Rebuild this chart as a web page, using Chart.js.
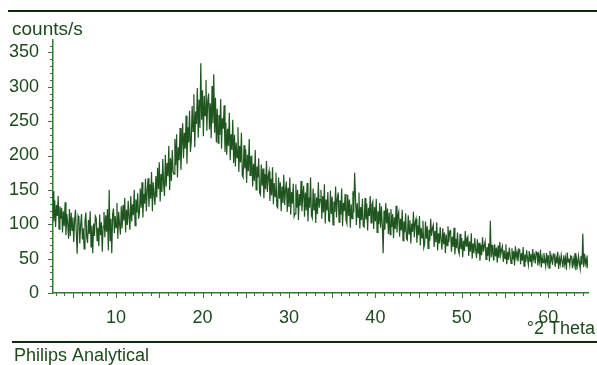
<!DOCTYPE html>
<html>
<head>
<meta charset="utf-8">
<script src="https://cdn.jsdelivr.net/npm/chart.js@4/dist/chart.umd.min.js"></script>
<style>
  html, body { margin: 0; padding: 0; background: #fff; }
  #wrap { width: 597px; height: 365px; position: relative; }
</style>
</head>
<body>
<div id="wrap"><canvas id="xrd"></canvas></div>
<script>
// scan settings (degrees 2 theta)
const thetaStart = 2.7;
const thetaStep = 0.1;

// counts/s, one row per degree (10 points of 0.1 deg)
const counts = [
  148,104,135, 96,128,112,141, 93,126,108,
  124, 88,119, 97,132, 84,115,101, 79,122,
   83,117, 91,110, 74,106,121, 87, 57,112,
  108, 72, 99,115, 78, 94, 64,104,117, 81,
   73,106, 86,119, 67, 98, 58,101, 83,112,
  109, 76, 95, 68,114, 84,103, 60, 97,118,
   81,113, 89,122, 62,150, 76,108, 58,115,
  123, 87,112, 95,131, 79,118,100, 85,126,
   94,128,105,138, 88,121, 99,134,110, 92,
  141,104,129,113,150, 98,136,117,145,108,
  116,152,124,161,110,144,130,166,119,149,
  167,125,158,137,176,119,161,143,128,170,
  139,182,151,190,133,173,147,195,158,141,
  201,155,189,170,214,150,196,163,208,176,
  173,224,186,231,168,212,193,240,179,216,
  247,196,233,210,258,188,241,219,265,205,
  221,272,235,289,212,264,246,298,226,281,
  240,334,252,295,228,287,258,310,236,279,
  290,238,276,225,301,247,318,233,284,219,
  268,218,259,230,282,210,254,239,273,205,
  248,201,239,214,262,193,231,208,252,189,
  230,184,219,197,241,176,214,190,233,171,
  168,215,181,209,160,201,177,224,171,198,
  199,155,188,163,208,150,184,168,196,146,
  143,187,156,181,138,173,151,192,147,170,
  177,134,166,142,183,129,160,140,175,126,
  124,168,137,161,119,155,131,172,128,150,
  162,118,153,125,168,114,147,130,159,111,
  115,158,124,150,106,144,127,163,119,141,
  156,111,146,120,160,104,139,124,168,113,
  109,152,121,145,102,139,115,161,124,136,
  150,108,141,117,158,101,136,120,147,105,
  104,149,115,140, 99,133,118,155,110,138,
  146,103,135,114,152, 97,131,119,144,106,
  101,143,112,136, 95,129,108,148,117,175,
  140, 99,131,110,146, 94,125,106,137, 97,
   96,138,107,130, 91,124,112,141,102,129,
  133, 93,125,104,137, 88,119,100,131, 95,
  126, 98, 58,120, 92,131,101,123, 86,117,
   85,122, 96,115, 80,110, 93,127, 88,112,
  118, 82,108, 91,121, 76,104, 88,116, 79,
   77,113, 86,106, 72,101, 89,118, 81,103,
  108, 73, 98, 84,112, 69, 95, 80,105, 66,
   71,104, 79, 97, 65, 92, 76,108, 83, 94,
   99, 67, 90, 74,103, 62, 87, 72, 96, 77,
   63, 94, 71, 88, 58, 85, 69, 97, 74, 90,
   91, 60, 82, 67, 95, 56, 79, 65, 88, 62,
   57, 86, 64, 80, 52, 76, 61, 90, 68, 79,
   82, 54, 75, 60, 87, 50, 72, 58, 80, 63,
   51, 78, 57, 73, 47, 70, 55, 81, 60, 69,
   75, 49, 67, 54, 72, 46,105, 52, 70, 56,
   47, 71, 53, 66, 44, 69, 51, 74, 55, 63,
   68, 45, 62, 50, 71, 42, 60, 48, 66, 53,
   43, 65, 49, 61, 40, 68, 52, 59, 46, 64,
   63, 42, 58, 47, 67, 39, 56, 45, 62, 50,
   41, 61, 46, 57, 38, 64, 49, 55, 43, 60,
   59, 40, 54, 45, 63, 37, 52, 44, 58, 48,
   39, 58, 44, 55, 36, 61, 47, 53, 41, 57,
   56, 38, 52, 43, 60, 35, 50, 42, 55, 46,
   37, 55, 42, 51, 34, 59, 45, 50, 40, 54,
   53, 36, 49, 41, 58, 33, 48, 40, 54, 44,
   35, 54, 41, 86, 38, 57, 43, 50, 36, 55
];

const xTickLabels = [10, 20, 30, 40, 50, 60];
const yTickLabels = [0, 50, 100, 150, 200, 250, 300, 350];

const thetaMax = 64.6;
const countsMax = 368;

const points = counts.map((c, i) => ({ x: +(thetaStart + i * thetaStep).toFixed(2), y: c }));

const textColor = '#1d4a1d';
const axisColor = '#2f7d2f';
const font = 'Liberation Sans, Arial, Helvetica, sans-serif';

// frame lines, captions and tick marks
const decor = {
  id: 'decor',
  afterDraw(chart) {
    const ctx = chart.ctx;
    const xs = chart.scales.x, ys = chart.scales.y;
    ctx.save();
    ctx.strokeStyle = axisColor;
    ctx.lineWidth = 1;
    for (let t = 3; t <= 64; t++) {
      const px = Math.round(xs.getPixelForValue(t)) + 0.5;
      const len = t % 5 === 0 ? 5 : 3;
      ctx.beginPath();
      ctx.moveTo(px, xs.top);
      ctx.lineTo(px, xs.top + len);
      ctx.stroke();
    }
    for (let v = 0; v <= 360; v += 10) {
      const py = Math.round(ys.getPixelForValue(v)) + 0.5;
      const len = v % 50 === 0 ? 5 : 3;
      ctx.beginPath();
      ctx.moveTo(ys.right, py);
      ctx.lineTo(ys.right - len, py);
      ctx.stroke();
    }
    // horizontal rules
    ctx.strokeStyle = '#0f2a0f';
    ctx.lineWidth = 2;
    ctx.beginPath();
    ctx.moveTo(8, 11);
    ctx.lineTo(597, 11);
    ctx.stroke();
    ctx.beginPath();
    ctx.moveTo(12, 342);
    ctx.lineTo(597, 342);
    ctx.stroke();
    // captions
    ctx.fillStyle = textColor;
    ctx.font = '19px ' + font;
    ctx.textBaseline = 'alphabetic';
    ctx.textAlign = 'left';
    ctx.fillText('counts/s', 12, 35);
    ctx.font = '18px ' + font;
    ctx.textAlign = 'right';
    ctx.fillText('°2 Theta', 595, 334);
    ctx.textAlign = 'left';
    ctx.fillText('Philips Analytical', 14, 361);
    ctx.restore();
  }
};

new Chart(document.getElementById('xrd'), {
  type: 'line',
  data: {
    datasets: [{
      data: points,
      borderColor: '#1f551f',
      borderWidth: 1.2,
      pointRadius: 0,
      tension: 0,
      fill: false
    }]
  },
  options: {
    responsive: true,
    maintainAspectRatio: false,
    animation: false,
    events: [],
    layout: { padding: { top: 40, right: 9, bottom: 0, left: 0 } },
    plugins: { legend: { display: false }, tooltip: { enabled: false } },
    scales: {
      x: {
        type: 'linear',
        min: thetaStart,
        max: thetaMax,
        afterFit: s => { s.height = 72; },
        afterBuildTicks: s => { s.ticks = xTickLabels.map(v => ({ value: v })); },
        grid: { display: false },
        border: { display: true, color: axisColor, width: 1.5 },
        ticks: { color: textColor, padding: 6, font: { family: font, size: 18 }, maxRotation: 0, autoSkip: false }
      },
      y: {
        type: 'linear',
        min: 0,
        max: countsMax,
        afterFit: s => { s.width = 53; },
        afterBuildTicks: s => { s.ticks = yTickLabels.map(v => ({ value: v })); },
        grid: { display: false },
        border: { display: true, color: axisColor, width: 1.5 },
        ticks: { color: textColor, padding: 6, font: { family: font, size: 18 }, autoSkip: false }
      }
    }
  },
  plugins: [decor]
});
</script>
</body>
</html>
